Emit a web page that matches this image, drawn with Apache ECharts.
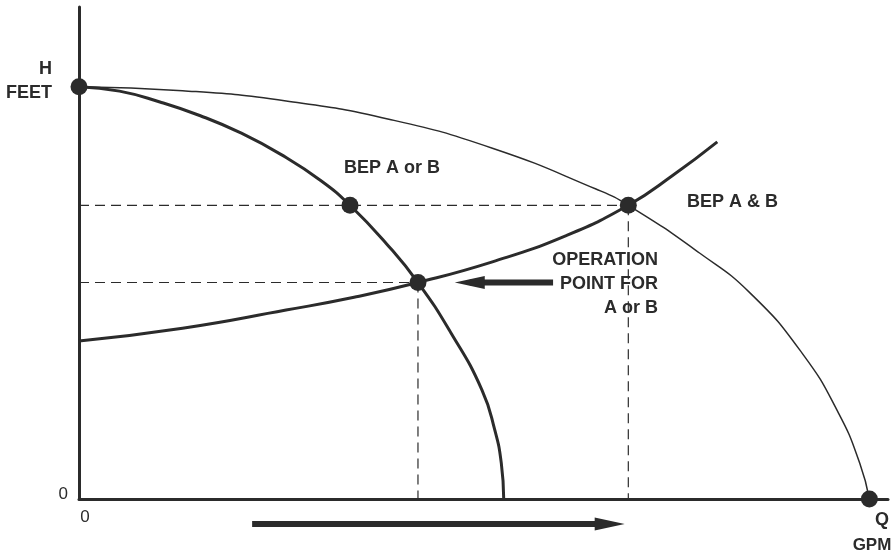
<!DOCTYPE html>
<html>
<head>
<meta charset="utf-8">
<script src="https://cdn.jsdelivr.net/npm/echarts@6/dist/echarts.min.js"></script>
<style>
  html, body { margin: 0; padding: 0; background: #fff; }
  #chart { width: 893px; height: 554px; }
</style>
</head>
<body>
<div id="chart"></div>
<script>
// pump A (single pump) head curve, Q in GPM units, H in feet units
const pumpAQ = [0, 50, 100, 150, 200, 250, 300, 335, 380, 419, 460, 498, 514, 522, 525];
const pumpAH = [83.8, 82.9, 80.7, 77.9, 74.4, 70.0, 64.6, 59.7, 51.9, 44.0, 33.7, 22.2, 14.0, 7.3, 0];

// pumps A & B together
const pumpBQ = [0, 128, 256, 383, 511, 639, 679, 767, 830, 894, 939, 965, 977];
const pumpBH = [83.8, 83.0, 80.9, 77.2, 71.3, 63.0, 59.7, 50.0, 41.8, 29.6, 17.4, 7.3, 0];

// system curve
const sysQ = [0, 128, 256, 340, 419, 511, 600, 679, 735, 789];
const sysH = [32.1, 34.7, 38.4, 41.0, 44.0, 48.2, 53.4, 59.7, 65.9, 72.6];

// marked points: shutoff, BEP A or B, operation point, BEP A & B, runout
const dotQ = [0, 335, 419, 679, 977];
const dotH = [83.8, 59.7, 44.0, 59.7, 0];

const bepH = 59.7;
const opQ = 419, opH = 44.0, bepQ = 679;

// arrows: tail Q, head-centre Q, H
const opArrow = [586, 483, 44.0];
const flowArrow = [214, 656, -5.1];

const ink = '#2b2b2b';
const font = '"Liberation Sans", Arial, sans-serif';

function pairs(xs, ys) {
    return xs.map((x, i) => [x, ys[i]]);
}

const chart = echarts.init(document.getElementById('chart'));

const dashed = {color: ink, width: 1.2, type: [10, 6]};

function label(text, x, y, align, size) {
    return {
        type: 'text', x: x, y: y,
        style: {text: text, align: align, verticalAlign: 'middle', lineHeight: 24, fill: ink, font: 'bold ' + size + 'px ' + font}
    };
}

function shaft(a) {
    return {
        type: 'line', data: [[a[0], a[2]], [a[1], a[2]]], clip: false,
        symbol: 'none', lineStyle: {color: ink, width: 6}, z: 6
    };
}

function head(a, rot) {
    return {
        type: 'scatter', data: [[a[1], a[2]]], clip: false,
        symbol: 'triangle', symbolSize: [13, 30], symbolRotate: rot,
        itemStyle: {color: ink, opacity: 1}, z: 6
    };
}

chart.setOption({
    animation: false,
    grid: {left: 79, right: 5, top: 7, bottom: 55},
    xAxis: {
        type: 'value', min: 0, max: 1000, interval: 1000,
        axisLine: {show: true, onZero: false, lineStyle: {color: ink, width: 3}},
        axisTick: {show: false},
        splitLine: {show: false},
        axisLabel: {
            formatter: v => v === 0 ? '0' : '',
            color: ink, fontSize: 17, fontFamily: font,
            margin: 10, padding: [0, 0, 0, 12]
        }
    },
    yAxis: {
        type: 'value', min: 0, max: 100, interval: 100,
        axisLine: {show: true, onZero: false, lineStyle: {color: ink, width: 3}},
        axisTick: {show: false},
        splitLine: {show: false},
        axisLabel: {
            formatter: v => v === 0 ? '0' : '',
            color: ink, fontSize: 17, fontFamily: font,
            margin: 11, verticalAlign: 'bottom', lineHeight: 10
        }
    },
    graphic: [
        label('H', 52, 69, 'right', 18),
        label('FEET', 52, 93, 'right', 18),
        label('Q', 882, 520, 'center', 18),
        label('GPM', 872, 545, 'center', 17),
        label('BEP A or B', 392, 168, 'center', 18),
        label('BEP A & B', 687, 202, 'left', 18),
        label('OPERATION\nPOINT FOR\nA or B', 658, 284, 'right', 18)
    ],
    series: [
        {
            type: 'line', data: [[0, bepH], [bepQ, bepH]],
            symbol: 'none', lineStyle: dashed, z: 1
        },
        {
            type: 'line', data: [[0, opH], [opQ, opH]],
            symbol: 'none', lineStyle: dashed, z: 1
        },
        {
            type: 'line', data: [[opQ, opH], [opQ, 0]],
            symbol: 'none', lineStyle: dashed, z: 1
        },
        {
            type: 'line', data: [[bepQ, bepH], [bepQ, 0]],
            symbol: 'none', lineStyle: dashed, z: 1
        },
        {
            // small tick at shutoff head
            type: 'line', data: [[-20, 83.8], [0, 83.8]], clip: false,
            symbol: 'none', lineStyle: {color: ink, width: 1.5}
        },
        {
            name: 'A & B', type: 'line', data: pairs(pumpBQ, pumpBH),
            smooth: 0.5, symbol: 'none',
            lineStyle: {color: ink, width: 1.5}, z: 2
        },
        {
            name: 'A', type: 'line', data: pairs(pumpAQ, pumpAH),
            smooth: 0.5, symbol: 'none',
            lineStyle: {color: ink, width: 3}, z: 3
        },
        {
            name: 'System', type: 'line', data: pairs(sysQ, sysH),
            smooth: 0.5, symbol: 'none',
            lineStyle: {color: ink, width: 3}, z: 3
        },
        {
            type: 'scatter', data: pairs(dotQ, dotH), clip: false,
            symbolSize: 17, itemStyle: {color: ink, opacity: 1}, z: 5
        },
        shaft(opArrow),
        head(opArrow, 90),
        shaft(flowArrow),
        head(flowArrow, -90)
    ]
});
</script>
</body>
</html>
